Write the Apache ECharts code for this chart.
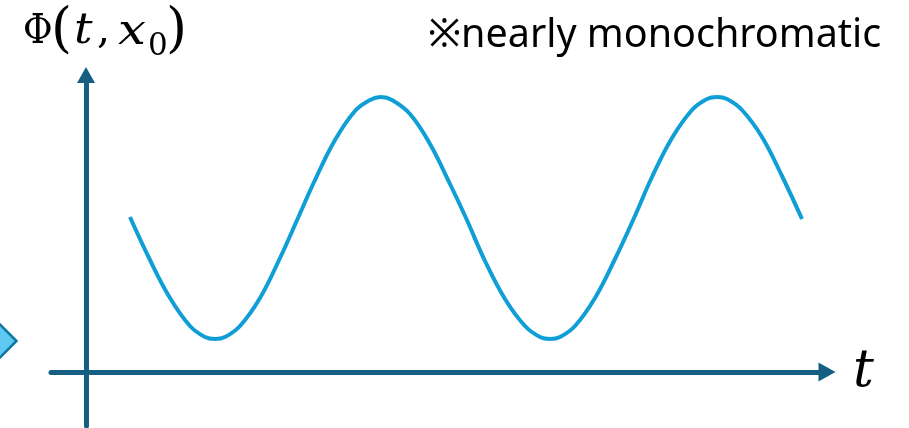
<!DOCTYPE html>
<html><head><meta charset="utf-8">
<script src="https://cdn.jsdelivr.net/npm/echarts@6/dist/echarts.min.js"></script>
<style>html,body{margin:0;padding:0;background:#fff;}#c{width:909px;height:428px;}</style>
</head><body><div id="c"></div>
<script>
// time samples (horizontal units) and field values Φ(t, x0)
const tValues = [44, 64, 84, 104, 119, 129, 139, 154, 174, 194, 212, 229, 249, 269, 284, 295, 306, 324, 344, 364, 380, 399, 419, 439, 454, 464, 474, 489, 509, 529, 548, 566, 586, 606, 621, 631, 641, 656, 676, 696, 716];
const phiValues = [155, 112, 74, 46, 35, 33, 35, 46, 74, 114, 154, 192, 232, 261, 272, 275, 272, 258, 228, 188, 154, 111, 73, 46, 35, 33, 35, 46, 74, 113, 154, 195, 234, 262, 273, 275, 273, 262, 235, 196, 153];
const tRange = [-35, 741];
const phiRange = [-54, 297];

const axisColor = '#156082';
const curveColor = '#0F9ED5';
const mathFont = '"DejaVu Serif", "Liberation Serif", serif';

const chart = echarts.init(document.getElementById('c'), null, {renderer: 'canvas'});
const points = tValues.map((t, i) => [t, phiValues[i]]);

function txt(text, x, y, font, extra) {
  return Object.assign({type: 'text', x: x, y: y, style: {text: text, font: font, fill: '#000', verticalAlign: 'top'}}, extra || {});
}

chart.setOption({
  animation: false,
  backgroundColor: '#ffffff',
  grid: {left: 51, right: 82, top: 75, bottom: 2, containLabel: false},
  xAxis: {
    type: 'value', min: tRange[0], max: tRange[1],
    axisLine: {onZero: true, symbol: ['none', 'triangle'], symbolSize: [19, 17],
      lineStyle: {color: axisColor, width: 5}},
    axisTick: {show: false}, axisLabel: {show: false}, splitLine: {show: false}
  },
  yAxis: {
    type: 'value', min: phiRange[0], max: phiRange[1],
    axisLine: {onZero: true, symbol: ['none', 'triangle'], symbolSize: [18, 16],
      lineStyle: {color: axisColor, width: 5}},
    axisTick: {show: false}, axisLabel: {show: false}, splitLine: {show: false}
  },
  series: [{
    type: 'line', data: points, smooth: 0.4, showSymbol: false,
    lineStyle: {color: curveColor, width: 4}, z: 3
  }],
  graphic: [
    {type: 'polygon', shape: {points: [[-10, 314.5], [16.5, 341], [-10, 367.5], [-36.5, 341]]},
      style: {fill: '#5FC8F0', stroke: '#0E77A3', lineWidth: 2.5}},
    txt('Φ', 23, 12.3, '41px ' + mathFont, {scaleX: 0.88}),
    txt('(', 51, 5.3, '54px ' + mathFont),
    txt('t', 74, 11, 'italic 42px ' + mathFont, {scaleX: 1.1}),
    txt(',', 97, 12.3, '41px ' + mathFont),
    txt('x', 118, 12.3, 'italic 42px ' + mathFont, {scaleX: 1.18}),
    txt('0', 148, 31.8, '31px ' + mathFont),
    txt(')', 166, 5.3, '54px ' + mathFont),
    txt('※nearly monochromatic', 428, 16, '39.5px "Noto Sans", sans-serif'),
    txt('t', 853, 346, 'italic 52px ' + mathFont)
  ]
});
</script>
</body></html>
